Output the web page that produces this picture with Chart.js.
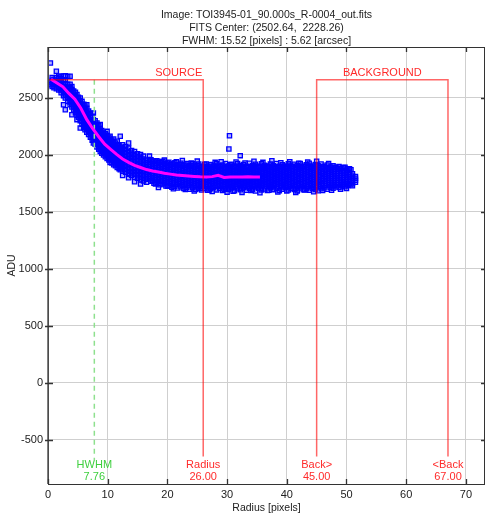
<!DOCTYPE html>
<html>
<head>
<meta charset="utf-8">
<script src="https://cdn.jsdelivr.net/npm/chart.js@4.4.1/dist/chart.umd.min.js"></script>
<style>
html,body{margin:0;padding:0;background:#fff;}
canvas{display:block;}
</style>
</head>
<body>
<canvas id="c" width="486" height="516"></canvas>
<script>
// ---------- data ----------
const titleLines = [
  "Image: TOI3945-01_90.000s_R-0004_out.fits",
  "FITS Center: (2502.64,  2228.26)",
  "FWHM: 15.52 [pixels] : 5.62 [arcsec]"
];
const xTickValues = [0, 10, 20, 30, 40, 50, 60, 70];
const yTickValues = [-500, 0, 500, 1000, 1500, 2000, 2500];
const xRange = [0, 73.2];
const yRange = [-886, 2947];

const sourceRadius = 26.00;
const backInnerRadius = 45.00;
const backOuterRadius = 67.00;
const hwhmRadius = 7.76;
const apertureTopADU = 2660;
const apertureBottomADU = -645;
const hwhmBottomADU = -675;

// mean radial profile (magenta)
const profileRadius = [0.5,1.5,2.5,3.5,4.5,5.5,6.5,7.5,8.5,9.5,10.5,11.5,12.5,13.5,14.5,15.5,16.5,17.5,18.5,19.5,20.5,21.5,22.5,23.5,24.5,25.5,26.5,27.5,28.5,29.5,30.5,31.5,32.5,33.5,34.5,35.5];
const profileADU = [2665,2632,2598,2540,2490,2410,2310,2230,2160,2095,2050,2005,1965,1935,1908,1890,1872,1860,1850,1840,1832,1825,1820,1816,1812,1808,1806,1810,1822,1803,1806,1807,1807,1808,1807,1807];

// pixel samples (blue squares), grouped by radius column
const cloudRadius = [
 0.4,0.7,1.0,1.4,1.8,2.2,2.6,2.9,3.3,3.7,4.0,4.3,4.6,4.85,5.1,5.4,5.7,6.0,6.2,6.5,6.8,7.1,7.4,7.6,7.9,8.2,8.5,8.75,9.0,9.3,9.6,9.9,10.2,10.4,10.7,11.0,11.3,11.6,11.9,12.1,
 12.5,13.0,13.5,14.0,14.5,15.0,15.5,16.0,
 16.5,17.0,17.5,18.0,18.5,19.0,19.5,20.0,20.5,21.0,21.5,22.0,22.5,23.0,23.5,24.0,24.5,25.0,25.5,26.0,26.5,27.0,27.5,28.0,28.5,29.0,29.5,30.0,30.3,30.4,
 30.5,31.0,31.5,32.0,32.2,32.5,33.0,33.5,34.0,34.5,35.0,35.5,36.0,36.5,37.0,37.5,38.0,38.5,39.0,39.5,40.0,40.5,41.0,41.5,42.0,42.5,43.0,43.5,44.0,44.5,45.0,45.5,46.0,
 46.5,47.0,47.5,48.0,48.5,49.0,49.5,50.0,50.5,51.0,51.5
];
const cloudADU = [
 [2807,2640,2615],[2600,2625,2655,2680],[2590,2615,2640,2665],[2734,2580,2605,2630,2655,2680],[2570,2595,2620,2645,2670,2690],
 [2690,2545,2570,2595,2620,2645,2670],[2441,2520,2545,2570,2595,2620,2650,2692],[2397,2500,2525,2550,2575,2600,2625,2660,2695],
 [2470,2495,2520,2545,2570,2595,2620,2688],[2440,2465,2490,2515,2540,2565,2590,2620,2690],[2353,2420,2445,2470,2495,2520,2545,2575,2600],
 [2395,2420,2445,2470,2495,2520,2545,2560],[2370,2395,2420,2445,2470,2495,2520,2550],[2310,2350,2375,2400,2425,2450,2475,2500,2530],
 [2330,2355,2380,2405,2430,2455,2480,2505],[2237,2300,2325,2350,2375,2400,2425,2450,2475,2500],[2270,2295,2320,2345,2370,2395,2420,2445,2470],
 [2240,2265,2290,2315,2340,2365,2390,2415,2445],[2222,2250,2275,2300,2325,2350,2375,2400,2430],[2200,2225,2250,2275,2300,2325,2350,2375,2410,2441],
 [2180,2205,2230,2255,2280,2305,2330,2355,2385],[2155,2180,2205,2230,2255,2280,2305,2330,2365],[2130,2155,2180,2205,2230,2255,2280,2305,2340],
 [2105,2130,2155,2180,2205,2230,2255,2280,2310,2368],[2095,2120,2145,2170,2195,2220,2245,2270,2300],[2070,2095,2120,2145,2170,2195,2220,2245,2280],
 [2050,2075,2100,2125,2150,2175,2200,2225,2255],[2030,2055,2080,2105,2130,2155,2180,2205,2235,2266],[2015,2040,2065,2090,2115,2140,2165,2190,2215],
 [2000,2025,2050,2075,2100,2125,2150,2175,2200],[1985,2010,2035,2060,2085,2110,2135,2160,2185],[1970,1995,2020,2045,2070,2095,2120,2145,2170,2207],
 [1955,1980,2005,2030,2055,2080,2105,2130,2155],[1935,1965,1990,2015,2040,2065,2090,2115,2140,2165],[1930,1955,1980,2005,2030,2055,2080,2105,2130],
 [1915,1940,1965,1990,2015,2040,2065,2090,2115,2140],[1905,1930,1955,1980,2005,2030,2055,2080,2105],[1890,1915,1940,1965,1990,2015,2040,2065,2090,2120],
 [1880,1905,1930,1955,1980,2005,2030,2055,2080],[1870,1895,1920,1945,1970,1995,2020,2045,2070,2164],
 [1860,1885,1910,1935,1960,1985,2010,2035,2060,2090,1820],[1848,1872,1898,1922,1948,1972,1998,2022,2048,2075],
 [1830,1855,1880,1905,1930,1955,1980,2005,2030,2060,2105,1800],[1820,1843,1868,1892,1917,1942,1966,1990,2015,2040],
 [1805,1830,1855,1880,1905,1930,1955,1980,2005,2030,1765],[1795,1818,1842,1866,1890,1914,1938,1962,1986,2010],
 [1780,1805,1830,1855,1880,1905,1930,1955,1980,2005,1745],[1772,1796,1820,1844,1868,1892,1916,1940,1964,1990],
 [1787,1808,1829,1850,1871,1892,1913,1934,1955,1760],[1791,1812,1833,1854,1875,1896,1917,1938,1959,1990],
 [1775,1796,1817,1838,1859,1880,1901,1922,1943],[1780,1801,1822,1843,1864,1885,1906,1927,1948,1745],
 [1765,1786,1807,1828,1849,1870,1891,1912,1933,1714],[1770,1791,1812,1833,1854,1875,1896,1917,1938],
 [1755,1776,1797,1818,1839,1860,1881,1902,1923,1955],[1761,1782,1803,1824,1845,1866,1887,1908,1929,1725],
 [1747,1768,1789,1810,1831,1852,1873,1894,1915],[1753,1774,1795,1816,1837,1858,1879,1900,1921,1703],
 [1740,1761,1782,1803,1824,1845,1866,1887,1908,1940],[1747,1768,1789,1810,1831,1852,1873,1894,1915],
 [1735,1756,1777,1798,1819,1840,1861,1882,1903,1952],[1743,1764,1785,1806,1827,1848,1869,1890,1911,1698],
 [1731,1752,1773,1794,1815,1836,1857,1878,1899],[1739,1760,1781,1802,1823,1844,1865,1886,1907,1930],
 [1727,1748,1769,1790,1811,1832,1853,1874,1895,1684],[1735,1756,1777,1798,1819,1840,1861,1882,1903,1946],
 [1723,1744,1765,1786,1807,1828,1849,1870,1891,1705],[1731,1752,1773,1794,1815,1836,1857,1878,1899],
 [1721,1742,1763,1784,1805,1826,1847,1868,1889,1920],[1733,1754,1775,1796,1817,1838,1859,1880,1901,1692],
 [1725,1746,1767,1788,1809,1830,1851,1872,1893,1679],[1735,1756,1777,1798,1819,1840,1861,1882,1903,1935],
 [1725,1746,1767,1788,1809,1830,1851,1872,1893],[1733,1754,1775,1796,1817,1838,1859,1880,1901,1941],
 [1721,1742,1763,1784,1805,1826,1847,1868,1889,1700],[1731,1752,1773,1794,1815,1836,1857,1878,1899,1674],
 [2053],[2169],
 [1722,1743,1763,1785,1804,1826,1846,1867,1888,1915],[1731,1753,1772,1795,1815,1835,1858,1877,1899,1682],
 [1720,1741,1764,1783,1806,1825,1848,1868,1890,1938],[1733,1751,1774,1793,1816,1837,1856,1879,1897],[1994],
 [1722,1743,1763,1785,1804,1826,1846,1867,1888,1672],[1731,1753,1772,1795,1815,1835,1858,1877,1899,1930],
 [1720,1741,1764,1783,1806,1825,1848,1868,1890],[1733,1751,1774,1793,1816,1837,1856,1879,1897,1688],
 [1722,1743,1763,1785,1804,1826,1846,1867,1888,1945],[1731,1753,1772,1795,1815,1835,1858,1877,1899],
 [1720,1741,1764,1783,1806,1825,1848,1868,1890,1668],[1733,1751,1774,1793,1816,1837,1856,1879,1897,1935],
 [1722,1743,1763,1785,1804,1826,1846,1867,1888],[1731,1753,1772,1795,1815,1835,1858,1877,1899,1690],
 [1720,1741,1764,1783,1806,1825,1848,1868,1890,1950],[1733,1751,1774,1793,1816,1837,1856,1879,1897],
 [1722,1743,1763,1785,1804,1826,1846,1867,1888,1675],[1731,1753,1772,1795,1815,1835,1858,1877,1899,1932],
 [1720,1741,1764,1783,1806,1825,1848,1868,1890],[1733,1751,1774,1793,1816,1837,1856,1879,1897,1685],
 [1722,1743,1763,1785,1804,1826,1846,1867,1888,1940],[1731,1753,1772,1795,1815,1835,1858,1877,1899],
 [1720,1741,1764,1783,1806,1825,1848,1868,1890,1670],[1733,1751,1774,1793,1816,1837,1856,1879,1897,1928],
 [1722,1743,1763,1785,1804,1826,1846,1867,1888],[1731,1753,1772,1795,1815,1835,1858,1877,1899,1692],
 [1720,1741,1764,1783,1806,1825,1848,1868,1890,1938],[1733,1751,1774,1793,1816,1837,1856,1879,1897],
 [1722,1743,1763,1785,1804,1826,1846,1867,1888,1678],[1731,1753,1772,1795,1815,1835,1858,1877,1899,1945],
 [1720,1741,1764,1783,1806,1825,1848,1868,1890],[1733,1751,1774,1793,1816,1837,1856,1879,1897,1688],
 [1730,1750,1770,1790,1810,1830,1850,1870,1888],[1738,1758,1778,1798,1818,1838,1858,1878,1925],
 [1735,1754,1773,1792,1811,1830,1849,1868,1885,1690],[1735,1755,1775,1795,1815,1835,1855,1875,1893],
 [1738,1758,1778,1798,1818,1838,1858,1878],[1740,1760,1780,1800,1820,1840,1860,1880,1700],
 [1742,1762,1782,1802,1822,1842,1862,1890],[1745,1765,1785,1805,1825,1845,1865,1705],
 [1748,1768,1788,1808,1828,1848,1880],[1755,1775,1795,1815,1835,1730],[1760,1778,1796,1812]
];

// scattered pixels along the upper / lower edges of the background band
const edgeRadius = [
 17.25,17.75,18.25,18.75,19.25,19.75,20.25,20.75,21.25,21.75,22.25,22.75,23.25,23.75,24.25,24.75,25.25,25.75,26.25,26.75,
 27.25,27.75,28.25,28.75,29.25,29.75,30.25,30.75,31.25,31.75,32.25,32.75,33.25,33.75,34.25,34.75,35.25,35.75,36.25,36.75,
 37.25,37.75,38.25,38.75,39.25,39.75,40.25,40.75,41.25,41.75,42.25,42.75,43.25,43.75,44.25,44.75,45.25,45.75,46.25,46.75,
 47.25,47.75,48.25,48.75,49.25,49.75,50.25,50.75
];
const edgeADU = [
 [1770,1958],[1752,1946],[1760,1950],[1738,1935],[1745,1944],[1728,1926],[1735,1937],[1718,1920],[1726,1932],[1710,1913],
 [1722,1928],[1706,1910],[1716,1925],[1700,1905],[1712,1922],[1697,1903],[1709,1920],[1692,1901],[1706,1918],[1690,1900],
 [1703,1916],[1712,1904],[1694,1922],[1708,1899],[1688,1912],[1704,1926],[1697,1903],[1710,1918],[1686,1900],[1703,1924],
 [1695,1908],[1712,1916],[1690,1901],[1706,1927],[1698,1905],[1684,1919],[1709,1900],[1694,1923],[1702,1910],[1689,1902],
 [1711,1921],[1696,1906],[1705,1926],[1687,1900],[1700,1915],[1713,1904],[1692,1922],[1707,1901],[1698,1918],[1685,1907],
 [1710,1924],[1695,1900],[1703,1913],[1690,1928],[1708,1903],[1697,1917],[1686,1905],[1704,1921],[1712,1900],[1700,1912],
 [1718,1895],[1708,1905],[1722,1890],[1715,1898],[1728,1886],[1722,1893],[1733,1878],[1738,1870]
];

// ---------- build datasets ----------
const cloudPoints = [];
cloudRadius.forEach((r, i) => cloudADU[i].forEach(v => cloudPoints.push({x: r, y: v})));
edgeRadius.forEach((r, i) => edgeADU[i].forEach(v => cloudPoints.push({x: r, y: v})));
const profilePoints = profileRadius.map((r, i) => ({x: r, y: profileADU[i]}));
const sourceBox = [
  {x: xRange[0], y: apertureTopADU}, {x: sourceRadius, y: apertureTopADU}, {x: sourceRadius, y: apertureBottomADU}
];
const backBox = [
  {x: backInnerRadius, y: apertureBottomADU}, {x: backInnerRadius, y: apertureTopADU},
  {x: backOuterRadius, y: apertureTopADU}, {x: backOuterRadius, y: apertureBottomADU}
];
const hwhmLine = [{x: hwhmRadius, y: apertureTopADU}, {x: hwhmRadius, y: hwhmBottomADU}];

const FONT = "'Liberation Sans', Arial, Helvetica, sans-serif";
const RED = 'rgba(255,0,0,0.6)';
const RED_TEXT = '#ff2b2b';
const GREEN_TEXT = '#3fcf3f';

const overlay = {
  id: 'overlay',
  afterDatasetsDraw(chart) {
    const {ctx, chartArea: a, scales: {x, y}} = chart;
    ctx.save();
    // frame
    ctx.strokeStyle = '#333';
    ctx.lineWidth = 1;
    ctx.strokeRect(a.left + 0.5, a.top + 0.5, a.right - a.left - 1, a.bottom - a.top);
    ctx.strokeStyle = '#555';
    ctx.lineWidth = 1.5;
    ctx.beginPath(); ctx.moveTo(a.left, a.top); ctx.lineTo(a.left, a.bottom); ctx.stroke();
    // inward ticks
    ctx.strokeStyle = '#333';
    ctx.lineWidth = 1.3;
    xTickValues.forEach(v => {
      const px = Math.round(x.getPixelForValue(v)) + 0.5;
      ctx.beginPath();
      ctx.moveTo(px, a.top); ctx.lineTo(px, a.top + 5);
      ctx.moveTo(px, a.bottom); ctx.lineTo(px, a.bottom - 5);
      ctx.stroke();
    });
    yTickValues.forEach(v => {
      const py = Math.round(y.getPixelForValue(v)) + 0.5;
      ctx.beginPath();
      ctx.moveTo(a.left - 3, py); ctx.lineTo(a.left + 5, py);
      ctx.moveTo(a.right - 4, py); ctx.lineTo(a.right, py);
      ctx.stroke();
    });
    // annotation texts
    ctx.font = '11px ' + FONT;
    ctx.textBaseline = 'middle';
    const topPx = y.getPixelForValue(apertureTopADU);
    ctx.fillStyle = RED_TEXT;
    ctx.textAlign = 'right';
    ctx.fillText('SOURCE', x.getPixelForValue(sourceRadius) - 1, topPx - 7);
    ctx.textAlign = 'center';
    ctx.fillText('BACKGROUND', x.getPixelForValue((backInnerRadius + backOuterRadius) / 2), topPx - 7);
    const l1 = a.bottom - 19, l2 = a.bottom - 7;
    [[sourceRadius, 'Radius'], [backInnerRadius, 'Back>'], [backOuterRadius, '<Back']].forEach(([r, t]) => {
      const px = x.getPixelForValue(r);
      ctx.fillText(t, px, l1);
      ctx.fillText(r.toFixed(2), px, l2);
    });
    ctx.fillStyle = GREEN_TEXT;
    const hx = x.getPixelForValue(hwhmRadius);
    ctx.fillText('HWHM', hx, l1);
    ctx.fillText(hwhmRadius.toFixed(2), hx, l2);
    // titles
    ctx.fillStyle = '#222';
    const cx = (a.left + a.right) / 2;
    ctx.font = '10.5px ' + FONT;
    titleLines.forEach((t, i) => ctx.fillText(t, cx, 15 + i * 13));
    // axis titles
    ctx.fillText('Radius [pixels]', cx, 508);
    ctx.save();
    ctx.translate(12, (a.top + a.bottom) / 2);
    ctx.rotate(-Math.PI / 2);
    ctx.fillText('ADU', 0, 0);
    ctx.restore();
    ctx.restore();
  }
};

new Chart(document.getElementById('c'), {
  type: 'scatter',
  data: {
    datasets: [
      {label: 'source', data: sourceBox, showLine: true, borderColor: RED, borderWidth: 1.5, pointRadius: 0, fill: false, order: 0},
      {label: 'background', data: backBox, showLine: true, borderColor: RED, borderWidth: 1.5, pointRadius: 0, fill: false, order: 0},
      {label: 'profile', data: profilePoints, showLine: true, borderColor: '#ff00ff', borderWidth: 3, pointRadius: 0, fill: false, order: 1},
      {label: 'hwhm', data: hwhmLine, showLine: true, borderColor: '#8ee08e', borderWidth: 1.5, borderDash: [5, 4], pointRadius: 0, fill: false, order: 2},
      {label: 'pixels', data: cloudPoints, showLine: false, pointStyle: 'rect', pointRadius: 3, borderWidth: 1.3, borderColor: '#0000ff', backgroundColor: 'rgba(0,0,255,0.3)', order: 3}
    ]
  },
  options: {
    responsive: false,
    animation: false,
    events: [],
    layout: {autoPadding: false, padding: {top: 47, right: 1, left: 0, bottom: 0}},
    plugins: {legend: {display: false}, tooltip: {enabled: false}, title: {display: false}},
    scales: {
      x: {
        type: 'linear', min: xRange[0], max: xRange[1],
        afterBuildTicks: s => { s.ticks = xTickValues.map(v => ({value: v})); },
        afterFit: s => { s.height = 32; s.paddingLeft = 0; s.paddingRight = 0; },
        grid: {color: '#cfcfcf', lineWidth: 1, drawTicks: false},
        border: {display: false},
        ticks: {padding: 4, color: '#222', font: {size: 11, family: FONT}, maxRotation: 0, callback: v => String(v)}
      },
      y: {
        type: 'linear', min: yRange[0], max: yRange[1],
        afterBuildTicks: s => { s.ticks = yTickValues.map(v => ({value: v})); },
        afterFit: s => { s.width = 48; s.paddingTop = 0; s.paddingBottom = 0; },
        grid: {color: '#cfcfcf', lineWidth: 1, drawTicks: false},
        border: {display: false},
        ticks: {padding: 5, color: '#222', font: {size: 11, family: FONT}, callback: v => String(v)}
      }
    }
  },
  plugins: [overlay]
});
</script>
</body>
</html>
